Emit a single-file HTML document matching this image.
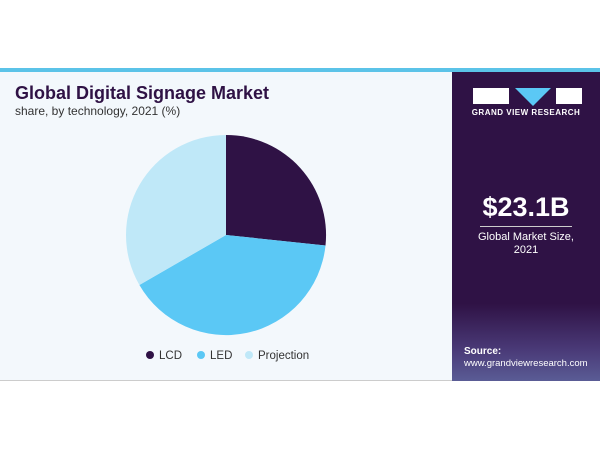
<!DOCTYPE html>
<html><head><style>
body{margin:0;width:600px;height:450px;background:#fff;font-family:"Liberation Sans",sans-serif;position:relative;overflow:hidden}
.strip{position:absolute;left:0;top:68px;width:600px;height:4px;background:#5bc3e8}
.left{position:absolute;left:0;top:72px;width:452px;height:308px;background:#f3f8fc;border-bottom:1px solid #ccc}
.right{position:absolute;left:452px;top:72px;width:148px;height:309px;background:linear-gradient(#2f1245 0%,#2f1245 75%,#4a3a78 90%,#5a5c95 100%)}
h1{position:absolute;left:15px;top:83px;margin:0;font-size:18px;font-weight:900;color:#2f1245}
.sub{position:absolute;left:15px;top:104px;font-size:12px;color:#333}
.leg{position:absolute;top:350px;font-size:11.5px;color:#333}
.dot{display:inline-block;width:8px;height:8px;border-radius:50%;margin-right:5px;vertical-align:0}
</style></head><body>
<div class="strip"></div>
<div class="left"></div>
<h1>Global Digital Signage Market</h1>
<div class="sub">share, by technology, 2021 (%)</div>
<svg style="position:absolute;left:0;top:0" width="452" height="380">
<path d="M226,235 L226,135 A100,100 0 0 1 325.5,245.5 Z" fill="#2f1245"/>
<path d="M226,235 L325.5,245.5 A100,100 0 0 1 139.4,285 Z" fill="#5bc8f5"/>
<path d="M226,235 L139.4,285 A100,100 0 0 1 226,135 Z" fill="#bfe8f8"/>
</svg>
<div class="leg" style="left:146px"><span class="dot" style="background:#2f1245"></span>LCD</div>
<div class="leg" style="left:197px"><span class="dot" style="background:#5bc8f5"></span>LED</div>
<div class="leg" style="left:245px"><span class="dot" style="background:#bfe8f8"></span>Projection</div>
<div class="right"></div>
<svg style="position:absolute;left:452px;top:72px" width="148" height="60">
<rect x="21" y="16" width="36" height="16" fill="#fff"/>
<polygon points="63,16 99,16 81,34" fill="#5bc8f5"/>
<rect x="104" y="16" width="26" height="16" fill="#fff"/>
</svg>
<div style="position:absolute;left:452px;width:148px;top:108px;text-align:center;color:#fff;font-size:8px;font-weight:bold;letter-spacing:0.5px">GRAND VIEW RESEARCH</div>
<div style="position:absolute;left:452px;width:148px;top:192px;text-align:center;color:#fff;font-size:27px;font-weight:bold">$23.1B</div>
<div style="position:absolute;left:480px;width:92px;top:226px;height:1px;background:#ccc"></div>
<div style="position:absolute;left:452px;width:148px;top:231px;text-align:center;color:#fff;font-size:11px;line-height:13px">Global Market Size,<br>2021</div>
<div style="position:absolute;left:464px;top:346px;color:#fff;font-size:10px;font-weight:bold">Source:</div>
<div style="position:absolute;left:464px;top:358px;color:#fff;font-size:9.5px">www.grandviewresearch.com</div>
</body></html>
